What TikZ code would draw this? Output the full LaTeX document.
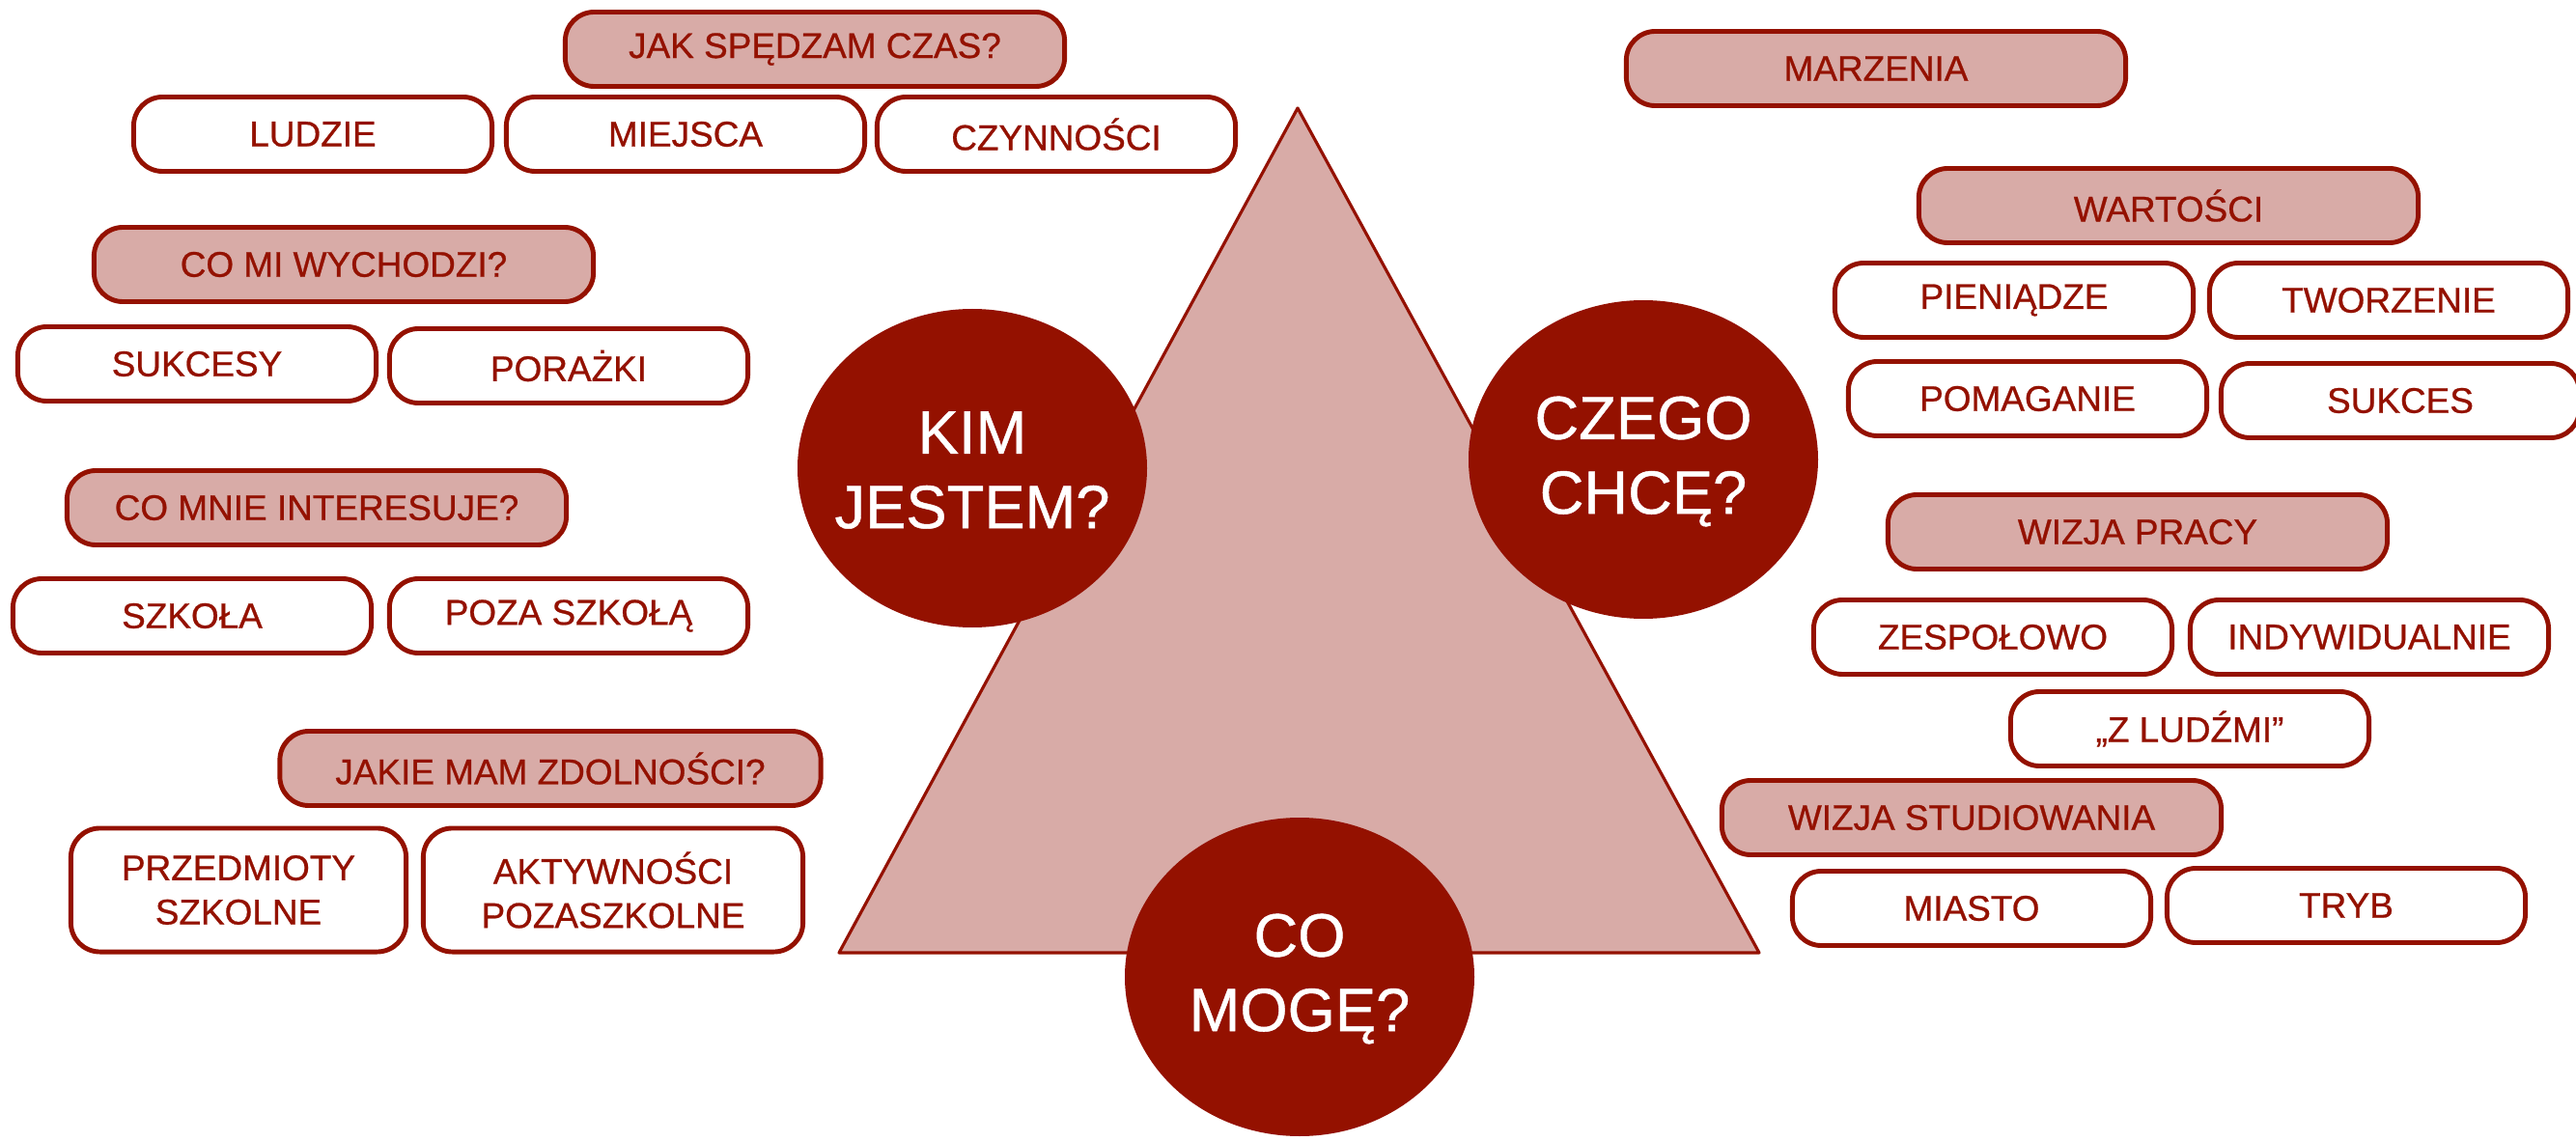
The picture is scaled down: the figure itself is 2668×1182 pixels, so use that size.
\documentclass[tikz,border=0pt]{standalone}
\usepackage{fontspec}
\setmainfont{Liberation Sans}[BoldFont=Liberation Sans, BoldFeatures={FakeBold=0.7}]
\usepackage{tikz}
\definecolor{darkred}{RGB}{148,17,0}
\definecolor{pinkfill}{RGB}{216,171,167}

\begin{document}
\begin{tikzpicture}[x=0.01cm,y=-0.01cm,
  box/.style={draw=darkred, line width=1.4pt, rounded corners=0.3cm, fill=white,
    text=darkred, font=\fontsize{10.5}{13}\selectfont\bfseries, align=center,
    minimum width=3.71cm, minimum height=0.77cm, inner sep=0pt},
  head/.style={box, fill=pinkfill, minimum width=5.17cm},
  tall/.style={box, minimum height=1.28cm},
  bigq/.style={text=white, align=center, inner sep=0pt, font=\fontsize{18}{22}\selectfont\bfseries}]
\useasboundingbox (0,0) rectangle (2668,1182);
\fill[white] (0,0) rectangle (2668,1182);

\coordinate (top) at (1344,112);
\coordinate (bl) at (869,987);
\coordinate (br) at (1822,987);
\draw[darkred, line width=0.9pt, fill=pinkfill, line join=round] (top) -- (bl) -- (br) -- cycle;

\fill[darkred] (1007,485) ellipse [x radius=181, y radius=165];
\fill[darkred] (1702,476) ellipse [x radius=181, y radius=165];
\fill[darkred] (1346,1012) ellipse [x radius=181, y radius=165];
\node[bigq] (kim) at (1007,487) {KIM\\JESTEM?};
\node[bigq] (czego) at (1702,478) {CZEGO\\CHCĘ?};
\node[bigq] (moge) at (1346,1014) {CO\\MOGĘ?};

\node[head] (czas) at (844,51) {JAK SPĘDZAM CZAS?};
\node[box] (ludzie) at (324,139) {LUDZIE};
\node[box] (miejsca) at (710,139) {MIEJSCA};
\node[box] (czynnosci) at (1094,139) {CZYNNOŚCI};

\node[head] (wychodzi) at (356,274) {CO MI WYCHODZI?};
\node[box] (sukcesy) at (204,377) {SUKCESY};
\node[box] (porazki) at (589,379) {PORAŻKI};

\node[head] (interesuje) at (328,526) {CO MNIE INTERESUJE?};
\node[box] (szkola) at (199,638) {SZKOŁA};
\node[box] (pozaszkola) at (589,638) {POZA SZKOŁĄ};

\node[head, minimum width=5.6cm] (zdolnosci) at (570,796) {JAKIE MAM ZDOLNOŚCI?};
\node[tall, minimum width=3.47cm] (przedmioty) at (247,922) {PRZEDMIOTY\\SZKOLNE};
\node[tall, minimum width=3.93cm] (aktywnosci) at (635,922) {AKTYWNOŚCI\\POZASZKOLNE};

\node[head] (marzenia) at (1943,71) {MARZENIA};

\node[head] (wartosci) at (2246,213) {WARTOŚCI};
\node[box] (pieniadze) at (2086,311) {PIENIĄDZE};
\node[box] (tworzenie) at (2474,311) {TWORZENIE};
\node[box] (pomaganie) at (2100,413) {POMAGANIE};
\node[box] (sukces) at (2486,415) {SUKCES};

\node[head] (praca) at (2214,551) {WIZJA PRACY};
\node[box] (zespolowo) at (2064,660) {ZESPOŁOWO};
\node[box] (indywidualnie) at (2454,660) {INDYWIDUALNIE};
\node[box] (zludzmi) at (2268,755) {„Z LUDŹMI”};

\node[head] (studia) at (2042,847) {WIZJA STUDIOWANIA};
\node[box] (miasto) at (2042,941) {MIASTO};
\node[box] (tryb) at (2430,938) {TRYB};
\end{tikzpicture}
\end{document}
